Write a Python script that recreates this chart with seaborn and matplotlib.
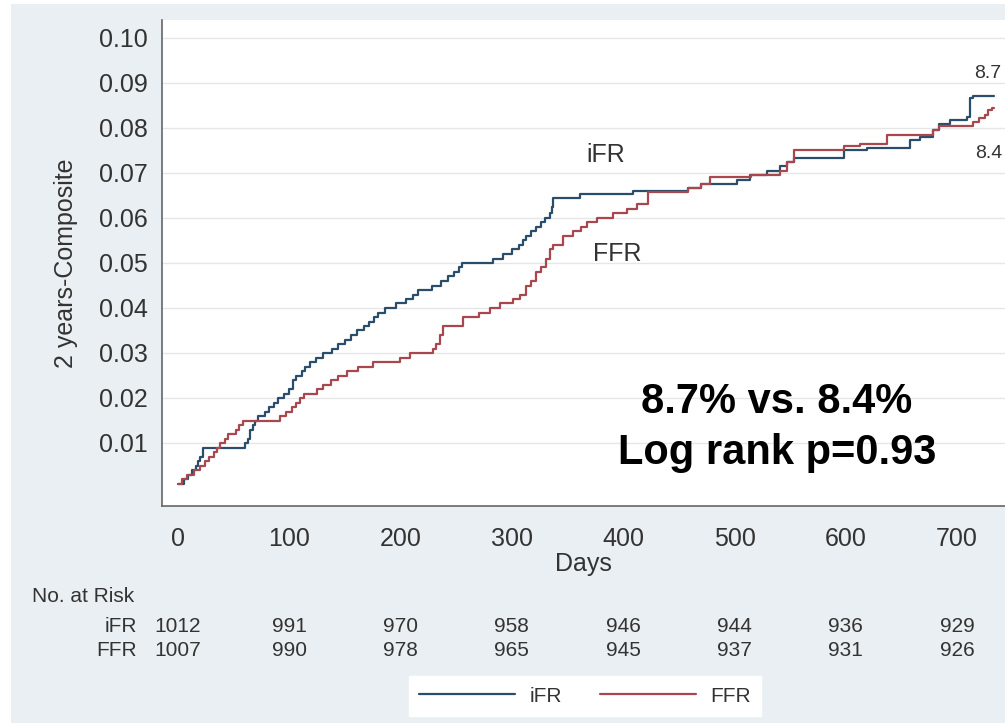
import numpy as np
import pandas as pd
import matplotlib
matplotlib.use("Agg")
import matplotlib.pyplot as plt
import seaborn as sns
from matplotlib.transforms import blended_transform_factory
from matplotlib.patches import Rectangle

# ---------------- data ----------------
ifr_days = [0, 5, 9, 13, 16, 18, 20, 22, 60, 63, 65, 67, 69, 72, 78, 82, 86, 90, 95, 100,
            103, 106, 111, 114, 119, 124, 130, 138, 144, 150, 155, 161, 167, 172, 176, 180,
            186, 196, 205, 211, 216, 228, 236, 243, 248, 252, 255, 283, 292, 300, 306, 310,
            313, 317, 322, 326, 330, 334, 336, 337, 361, 409, 458, 470, 502, 514, 529, 541,
            547, 553, 598, 619, 658, 667, 678, 684, 694, 709, 712, 714, 733]
ifr_vals = [0.001, 0.002, 0.003, 0.004, 0.005, 0.006, 0.007, 0.009, 0.010, 0.011, 0.013, 0.014,
            0.015, 0.016, 0.017, 0.018, 0.019, 0.020, 0.021, 0.022, 0.024, 0.025, 0.026, 0.027,
            0.028, 0.029, 0.030, 0.031, 0.032, 0.033, 0.034, 0.035, 0.036, 0.037, 0.038, 0.039,
            0.040, 0.041, 0.042, 0.043, 0.044, 0.045, 0.046, 0.047, 0.048, 0.049, 0.050, 0.051,
            0.052, 0.053, 0.054, 0.055, 0.056, 0.057, 0.058, 0.059, 0.060, 0.061, 0.0625, 0.0645,
            0.0653, 0.0661, 0.0667, 0.0676, 0.0684, 0.0696, 0.0705, 0.0715, 0.0725, 0.0733,
            0.0751, 0.0756, 0.0773, 0.0780, 0.0796, 0.0808, 0.0818, 0.0824, 0.0866, 0.0870, 0.0870]

ffr_days = [0, 4, 8, 14, 20, 24, 28, 32, 35, 38, 42, 45, 52, 55, 58, 92, 97, 102, 106, 110,
            113, 125, 130, 137, 144, 152, 162, 175, 199, 208, 229, 232, 235, 238, 256, 270,
            280, 289, 301, 307, 313, 317, 322, 326, 331, 334, 337, 346, 355, 362, 367, 376,
            391, 403, 412, 422, 458, 470, 478, 515, 529, 541, 547, 553, 598, 613, 637, 678,
            684, 714, 720, 725, 728, 731, 733]
ffr_vals = [0.001, 0.002, 0.003, 0.004, 0.005, 0.006, 0.007, 0.008, 0.009, 0.010, 0.011, 0.012,
            0.013, 0.014, 0.015, 0.016, 0.017, 0.018, 0.019, 0.020, 0.021, 0.022, 0.023, 0.024,
            0.025, 0.026, 0.027, 0.028, 0.029, 0.030, 0.031, 0.032, 0.034, 0.036, 0.038, 0.039,
            0.040, 0.041, 0.042, 0.043, 0.045, 0.046, 0.048, 0.049, 0.051, 0.053, 0.054, 0.056,
            0.057, 0.058, 0.059, 0.060, 0.061, 0.062, 0.063, 0.0658, 0.0667, 0.0676, 0.0692,
            0.0696, 0.0696, 0.0705, 0.0725, 0.0751, 0.0759, 0.0765, 0.0784, 0.0796, 0.0804,
            0.0813, 0.0822, 0.0829, 0.0840, 0.0844, 0.0844]

groups = ["iFR", "FFR"]
risk_days = [0, 100, 200, 300, 400, 500, 600, 700]
risk_ifr = [1012, 991, 970, 958, 946, 944, 936, 929]
risk_ffr = [1007, 990, 978, 965, 945, 937, 931, 926]
xticks = [0, 100, 200, 300, 400, 500, 600, 700]
yticks = [0.01, 0.02, 0.03, 0.04, 0.05, 0.06, 0.07, 0.08, 0.09, 0.10]
end_labels = ["8.7", "8.4"]

# ---------------- style ----------------
BG = "#e9eff2"
C_IFR = "#2b4d6c"
C_FFR = "#a9474f"
TXT = "#333333"

sns.set_theme(style="white")
plt.rcParams["font.family"] = ["Liberation Sans", "DejaVu Sans"]

W, H = 1005, 723
fig = plt.figure(figsize=(W / 100, H / 100), dpi=100)
fig.patch.set_facecolor("white")
fig.patches.append(Rectangle((11 / W, 0), 1 - 11 / W, 1 - 4 / H, transform=fig.transFigure,
                             facecolor=BG, edgecolor="none", zorder=-10))

ax = fig.add_axes([162 / W, 1 - 506 / H, (1005 - 162) / W, (506 - 20) / H])
ax.set_facecolor("white")

df = pd.concat([
    pd.DataFrame({"day": ifr_days, "value": ifr_vals, "group": "iFR"}),
    pd.DataFrame({"day": ffr_days, "value": ffr_vals, "group": "FFR"}),
])
sns.lineplot(data=df, x="day", y="value", hue="group", hue_order=groups,
             palette={"iFR": C_IFR, "FFR": C_FFR}, estimator=None,
             drawstyle="steps-post", linewidth=1.6, ax=ax, legend=False)

ax.set_xlim(-14.4, 743)
ax.set_ylim(-0.004, 0.104)
ax.set_xticks(xticks)
ax.set_yticks(yticks)
ax.set_yticklabels([f"{v:.2f}" for v in yticks])
ax.yaxis.grid(True, color="#e6e6e6", linewidth=1.0)
ax.xaxis.grid(False)
for s in ["top", "right"]:
    ax.spines[s].set_visible(False)
for s in ["left", "bottom"]:
    ax.spines[s].set_color("#666666")
    ax.spines[s].set_linewidth(1.2)
ax.tick_params(axis="both", direction="out", length=6.5, width=1.0, color="#666666",
               labelsize=18, labelcolor=TXT)
ax.tick_params(axis="x", pad=8.5)
ax.tick_params(axis="y", pad=4)
ax.set_xlabel("Days", fontsize=18, color=TXT, labelpad=1)
ax.set_ylabel("2 years-Composite", fontsize=18, color=TXT, labelpad=15)

# in-plot annotations
ax.text(384, 0.074, "iFR", fontsize=18, color=TXT, ha="center", va="center")
ax.text(395, 0.052, "FFR", fontsize=18, color=TXT, ha="center", va="center")
ax.text(727, 0.0922, end_labels[0], fontsize=14, color=TXT, ha="center", va="center")
ax.text(728, 0.0744, end_labels[1], fontsize=14, color=TXT, ha="center", va="center")
ax.text(538, 0.0191, "8.7% vs. 8.4%", fontsize=30, fontweight="bold", color="black",
        ha="center", va="center")
ax.text(538, 0.0078, "Log rank p=0.93", fontsize=30, fontweight="bold", color="black",
        ha="center", va="center")

# number at risk table
tr = blended_transform_factory(ax.transData, fig.transFigure)
fig.text(32 / W, 1 - 596 / H, "No. at Risk", fontsize=15, color=TXT, ha="left", va="center")
fig.text(137 / W, 1 - 626 / H, "iFR", fontsize=15, color=TXT, ha="right", va="center")
fig.text(137 / W, 1 - 651 / H, "FFR", fontsize=15, color=TXT, ha="right", va="center")
for d, a, b in zip(risk_days, risk_ifr, risk_ffr):
    ax.text(d, 1 - 626 / H, str(a), transform=tr, fontsize=15, color=TXT, ha="center", va="center")
    ax.text(d, 1 - 651 / H, str(b), transform=tr, fontsize=15, color=TXT, ha="center", va="center")

# legend
handles = ax.get_lines()[:2]
leg = fig.legend(handles, groups, loc="center", bbox_to_anchor=(585 / W, 1 - 696 / H),
                 ncol=2, frameon=True, facecolor="white", edgecolor="white", fancybox=False,
                 fontsize=15, handlelength=4.6, handletextpad=0.7, columnspacing=1.8,
                 borderpad=0.5)
leg.get_frame().set_alpha(1.0)
for t in leg.get_texts():
    t.set_color(TXT)

fig.savefig("out.png", dpi=100, facecolor=fig.get_facecolor())
